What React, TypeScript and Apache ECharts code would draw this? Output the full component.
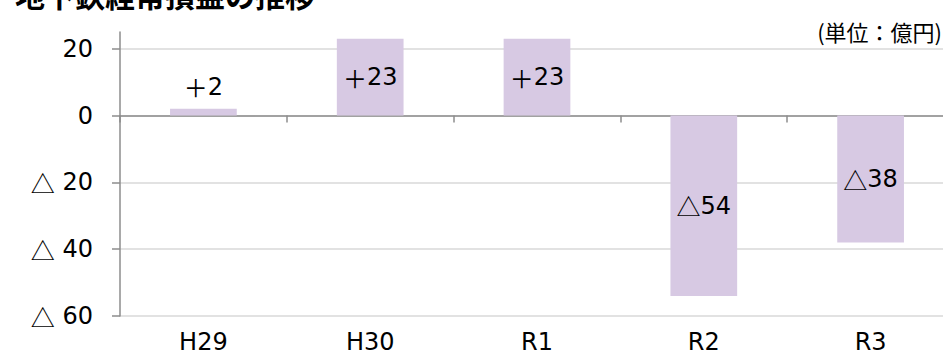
import React, { useEffect, useRef } from "react";
import * as echarts from "echarts";

const categories = ["H29", "H30", "R1", "R2", "R3"];
const values = [2, 23, 23, -54, -38];
const yTicks = [-60, -40, -20, 0, 20];
const titleText = "地下鉄経常損益の推移";
const unitText = "(単位：億円)";

const FONT = "'DejaVu Sans', sans-serif";
const CJK = "'Noto Sans CJK JP', sans-serif";
const PAGE_W = 943;
const CHART_W = 970;

function fmtValue(v: number): string {
  return v < 0 ? "{s|△}" + -v : "{s|＋}" + v;
}
function fmtAxis(v: number): string {
  if (v > 20) return "";
  return v < 0 ? "{s|△} " + -v : String(v);
}

const richSym = {
  s: { fontFamily: CJK, fontSize: 24, color: "#000" },
};

export default function App() {
  const ref = useRef<HTMLDivElement>(null);
  useEffect(() => {
    document.body.style.margin = "0";
    if (!ref.current) return;
    const chart = echarts.init(ref.current, undefined, { renderer: "svg" });
    chart.setOption({
      animation: false,
      backgroundColor: "#ffffff",
      grid: { left: 120, top: 32, width: 834, bottom: 39, containLabel: false },
      graphic: [
        {
          type: "text",
          left: 15,
          top: -21,
          style: {
            text: titleText,
            font: "bold 30px 'Noto Sans CJK JP', sans-serif",
            fill: "#000",
          },
        },
        {
          type: "text",
          right: CHART_W - PAGE_W + 1,
          top: 20,
          style: {
            text: unitText,
            font: "22px 'Noto Sans CJK JP', sans-serif",
            fill: "#000",
          },
        },
      ],
      xAxis: [
        {
          type: "category",
          data: categories,
          position: "bottom",
          axisLine: { show: true, onZero: true, lineStyle: { color: "#8c8c8c", width: 1.5 } },
          axisTick: { show: true, alignWithLabel: false, length: 7, lineStyle: { color: "#8c8c8c", width: 1.5 } },
          axisLabel: { show: false },
          splitLine: { show: false },
        },
        {
          type: "category",
          data: categories,
          position: "bottom",
          axisLine: { show: false, onZero: false },
          axisTick: { show: false },
          axisLabel: { show: true, color: "#000", fontSize: 24, lineHeight: 24, fontFamily: FONT, margin: 14 },
          splitLine: { show: false },
        },
      ],
      yAxis: {
        type: "value",
        min: -60,
        max: 25,
        interval: 20,
        axisLine: { show: true, lineStyle: { color: "#8c8c8c", width: 1.5 } },
        axisTick: { show: true, length: 8, customValues: yTicks, lineStyle: { color: "#8c8c8c", width: 1.5 } },
        axisLabel: {
          customValues: yTicks,
          color: "#000",
          fontSize: 24,
          fontFamily: FONT,
          margin: 27,
          formatter: (v: number) => fmtAxis(v),
          rich: richSym,
        },
        splitLine: { show: true, lineStyle: { color: "#d9d9d9", width: 1.5 } },
      },
      series: [
        {
          type: "bar",
          xAxisIndex: 0,
          barWidth: "40%",
          itemStyle: { color: "#d7c9e3" },
          data: values.map((v) => ({
            value: v,
            label: {
              show: true,
              position: Math.abs(v) < 10 ? "top" : "inside",
              distance: 10,
              color: "#000",
              fontSize: 24,
              fontFamily: FONT,
              formatter: () => fmtValue(v),
              rich: richSym,
            },
          })),
        },
      ],
    });
    return () => chart.dispose();
  }, []);
  return (
    <div style={{ width: PAGE_W, height: 355, overflow: "hidden", position: "relative" }}>
      <div ref={ref} style={{ width: CHART_W, height: 355 }} />
    </div>
  );
}
